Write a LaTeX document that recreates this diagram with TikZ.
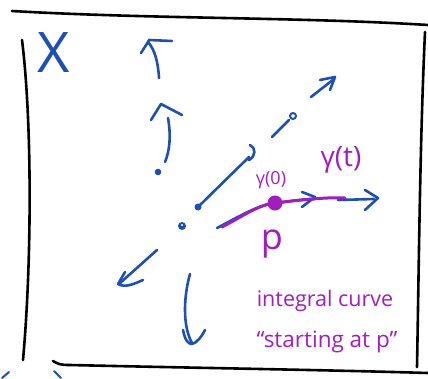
\documentclass[tikz,border=0pt]{standalone}
\usepackage{fontspec}
\setmainfont{Open Sans}
\definecolor{penblue}{RGB}{30,80,180}
\definecolor{penpurple}{RGB}{160,30,190}
\tikzset{
  frame/.style={draw=black, line width=2.6pt, line cap=round, line join=round},
  bpen/.style={draw=penblue, line width=2.6pt, line cap=round, line join=round},
  ppen/.style={draw=penpurple, line width=3pt, line cap=round, line join=round},
  btxt/.style={text=penblue, inner sep=0pt},
  ptxt/.style={text=penpurple, inner sep=0pt, align=center}
}
\begin{document}
\begin{tikzpicture}[x=1pt,y=-1pt]
\useasboundingbox (0,0) rectangle (428,378);
% frame
\draw[frame] (12,11) .. controls (150,19) and (300,17) .. (428,25);
\draw[frame] (22,40) .. controls (32,120) and (32,260) .. (23,360);
\draw[frame] (425,32) .. controls (420,140) and (419,260) .. (417,367);
\draw[frame] (53,361) .. controls (58,364) and (60,365) .. (70,365) .. controls (200,368) and (330,370) .. (428,373);
% partial strokes at the bottom-left corner
\draw[bpen, line width=2pt] (2,378) -- (9,372);
\draw[bpen, line width=2pt] (54,371) -- (61,378);
% X label
\node[btxt, font=\fontsize{56}{56}\selectfont] (X) at (54,53) {X};
% arrow 1 (top)
\coordinate (a1s) at (159,78);
\coordinate (a1e) at (148,42);
\draw[bpen] (a1s) .. controls (158,62) and (155,50) .. (a1e);
\draw[bpen] (141,53) -- (a1e) -- (149,40) -- (172,41);
% arrow 2
\fill[penblue] (158,172) circle (3.3);
\coordinate (a2s) at (165,162);
\coordinate (a2e) at (168,118);
\draw[bpen] (a2s) .. controls (170,150) and (171,135) .. (a2e);
\draw[bpen] (151,120) -- (161,104) -- (182,115);
% center point
\fill[penblue] (182,226) circle (4);
\fill[white] (182,225) circle (1.1);
% arrow 4 (diagonal with hook)
\fill[penblue] (198,207) circle (3.5);
\coordinate (a4e) at (249,157);
\draw[bpen] (198,207) -- (a4e);
\draw[bpen] (250,145) .. controls (256,148) and (256,156) .. (249,160);
% arrow 5
\coordinate (a5s) at (272,137);
\coordinate (a5e) at (289,120);
\draw[bpen] (a5s) -- (a5e);
\draw[bpen, line width=2pt] (293,116) circle (3);
% arrow 6
\coordinate (a6s) at (311,97);
\coordinate (a6e) at (334,79);
\draw[bpen] (a6s) -- (a6e);
\draw[bpen] (320,80) -- (335,77) -- (330,90);
% arrow 7 (right, integral curve)
\draw[bpen] (217,228) .. controls (240,216) and (258,205) .. (275,203) .. controls (292,201) and (305,199) .. (315,199);
\draw[bpen] (302,192) -- (315,197) -- (302,207);
\draw[bpen] (338,200) -- (374,199);
\draw[bpen] (365,190) -- (378,198) -- (365,210);
\draw[ppen] (222,227) .. controls (245,215) and (258,205) .. (275,203) .. controls (300,200) and (325,197) .. (345,198);
\fill[penpurple] (275,203) circle (7.5);
% arrow 8 (down-left)
\coordinate (a8s) at (157,250);
\coordinate (a8e) at (119,284);
\draw[bpen] (a8s) -- (a8e);
\draw[bpen] (125,272) -- (118,284) .. controls (125,288) and (134,284) .. (143,280);
% arrow 9 (down)
\coordinate (a9s) at (190,274);
\coordinate (a9e) at (192,343);
\draw[bpen] (a9s) .. controls (184,295) and (182,325) .. (a9e);
\draw[bpen] (183,330) .. controls (185,340) and (188,344) .. (192,344) .. controls (197,343) and (202,336) .. (205,330);
% labels
\node[ptxt, font=\fontsize{18}{18}\selectfont] (g0) at (271,180) {γ(0)};
\node[ptxt, font=\fontsize{28}{28}\selectfont] (gt) at (341,160) {γ(t)};
\node[ptxt, font=\fontsize{36}{36}\selectfont] (p) at (272,244) {p};
\node[ptxt, font=\fontsize{21.5}{21.5}\selectfont] (ic) at (325,301) {integral curve};
\node[ptxt, font=\fontsize{22.5}{22.5}\selectfont] (sp) at (327,342) {“starting at p”};
\end{tikzpicture}
\end{document}
